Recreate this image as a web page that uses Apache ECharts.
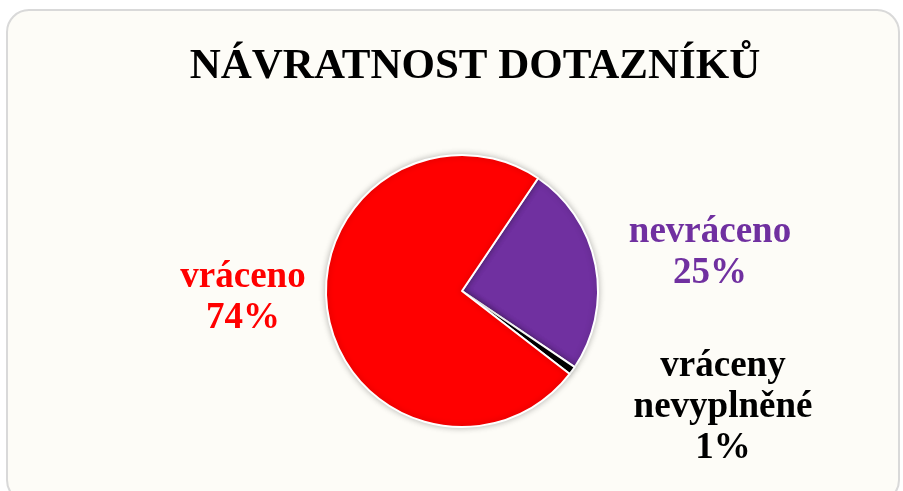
<!DOCTYPE html>
<html>
<head>
<meta charset="utf-8">
<script src="https://cdn.jsdelivr.net/npm/echarts@6/dist/echarts.min.js"></script>
<style>
  html, body { margin: 0; padding: 0; background: #fff; }
  #chart { width: 903px; height: 491px; }
</style>
</head>
<body>
<div id="chart"></div>
<script>
// data
var titleText = 'NÁVRATNOST DOTAZNÍKŮ'
var names = ['nevráceno', 'vráceny\nnevyplněné', 'vráceno']
var values = [25, 1, 74]
var colors = ['#7030A0', '#000000', '#FF0000']
// where each label sits (center of text block)
var labelPos = [[710, 253], [723, 407], [243, 298]]

var chart = echarts.init(document.getElementById('chart'))

chart.setOption({
  backgroundColor: '#fff',
  graphic: [{
    type: 'rect',
    z: -10,
    shape: { x: 7, y: 10, width: 892, height: 492, r: 22 },
    style: { fill: '#FDFCF7', stroke: '#D9D9D9', lineWidth: 2 }
  }, {
    type: 'text',
    x: 475,
    y: 45,
    style: {
      text: titleText,
      align: 'center',
      verticalAlign: 'top',
      fontFamily: 'Liberation Serif',
      fontWeight: 'bold',
      fontSize: 43,
      fill: '#000'
    }
  }],
  series: [{
    type: 'pie',
    center: [462, 291],
    radius: 136,
    startAngle: 56,
    clockwise: true,
    animation: false,
    itemStyle: {
      borderColor: '#fff',
      borderWidth: 2,
      shadowBlur: 6,
      shadowColor: 'rgba(0,0,0,0.25)'
    },
    label: {
      show: true,
      formatter: '{b}\n{d}%',
      fontFamily: 'Liberation Serif',
      fontWeight: 'bold',
      fontSize: 37,
      lineHeight: 41,
      align: 'center'
    },
    labelLine: { show: false },
    labelLayout: function (params) {
      var p = labelPos[params.dataIndex]
      return { x: p[0], y: p[1], align: 'center', verticalAlign: 'middle' }
    },
    data: names.map(function (n, i) {
      return {
        name: n,
        value: values[i],
        itemStyle: { color: colors[i] },
        label: { color: colors[i] }
      }
    })
  }]
})
</script>
</body>
</html>
